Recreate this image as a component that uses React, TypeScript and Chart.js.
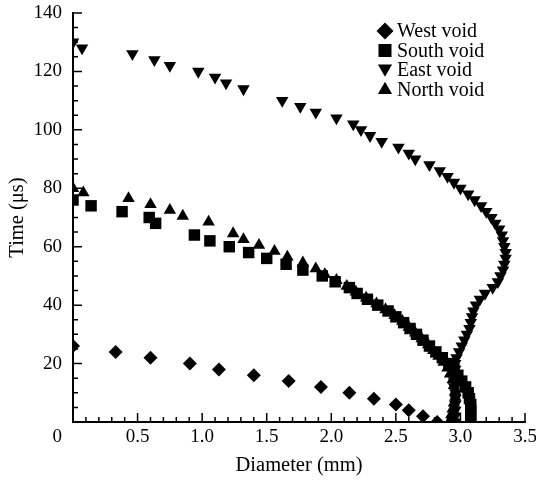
import React, { useEffect, useRef } from 'react';
import { Chart, registerables } from 'chart.js';
import { drawPoint } from 'chart.js/helpers';

Chart.register(...registerables);

// ---- data (diameter in mm, time in µs) ----
const westD = [0, 0.33, 0.6, 0.905, 1.13, 1.4, 1.67, 1.92, 2.14, 2.33, 2.5, 2.6, 2.71, 2.82];
const westT = [26, 24, 22, 20, 18, 16, 14, 12, 10, 8, 6, 4, 2, 0];

const southD = [0, 0.14, 0.38, 0.59, 0.64, 0.94, 1.06, 1.21, 1.36, 1.5, 1.65, 1.78, 1.93, 2.03, 2.14, 2.2, 2.28, 2.36, 2.44, 2.5, 2.56, 2.61, 2.66, 2.71, 2.76, 2.81, 2.86, 2.91, 2.95, 2.98, 3.01, 3.04, 3.06, 3.07, 3.08, 3.08, 3.08, 3.08];
const southT = [76, 74, 72, 70, 68, 64, 62, 60, 58, 56, 54, 52, 50, 48, 46, 44, 42, 40, 38, 36, 34, 32, 30, 28, 26, 24, 22, 20, 18, 16, 14, 12, 10, 8, 6, 4, 2, 0];

const eastD = [0, 0.07, 0.46, 0.63, 0.75, 0.97, 1.1, 1.185, 1.32, 1.62, 1.76, 1.88, 2.04, 2.17, 2.23, 2.3, 2.39, 2.52, 2.6, 2.65, 2.76, 2.84, 2.9, 2.95, 3.0, 3.06, 3.11, 3.16, 3.2, 3.24, 3.27, 3.3, 3.32, 3.33, 3.34, 3.35, 3.35, 3.34, 3.33, 3.31, 3.29, 3.25, 3.19, 3.15, 3.12, 3.1, 3.09, 3.08, 3.07, 3.05, 3.03, 3.01, 2.99, 2.97, 2.96, 2.96, 2.95, 2.95, 2.95, 2.96, 2.96, 2.96, 2.96, 2.96, 2.96];
const eastT = [130, 128, 126, 124, 122, 120, 118, 116, 114, 110, 108, 106, 104, 102, 100, 98, 96, 94, 92, 90, 88, 86, 84, 82, 80, 78, 76, 74, 72, 70, 68, 66, 64, 62, 60, 58, 56, 54, 52, 50, 48, 46, 44, 42, 40, 38, 36, 34, 32, 30, 28, 26, 24, 22, 20, 18, 16, 14, 12, 10, 8, 6, 4, 2, 0];

const northD = [0, 0.08, 0.43, 0.6, 0.75, 0.85, 1.05, 1.24, 1.32, 1.44, 1.56, 1.66, 1.78, 1.88, 1.95, 2.04, 2.12, 2.19, 2.27, 2.35, 2.42, 2.49, 2.55, 2.6, 2.65, 2.7, 2.75, 2.79, 2.83, 2.87, 2.9, 2.92, 2.94, 2.95, 2.96, 2.96, 2.95, 2.94, 2.93, 2.92];
const northT = [80, 78.5, 76.5, 74.5, 72.5, 70.5, 68.5, 64.5, 62.5, 60.5, 58.5, 56.5, 54.5, 52.5, 50.5, 48.5, 46.5, 44.5, 42.5, 40.5, 38.5, 36.5, 34.5, 32.5, 30.5, 28.5, 26.5, 24.5, 22.5, 20.5, 18.5, 16.5, 14.5, 12.5, 10.5, 8.5, 6.5, 4.5, 2.5, 0.5];

const seriesLabels = ['West void', 'South void', 'East void', 'North void'];
const xTitle = 'Diameter (mm)';
const yTitle = 'Time (\u03bcs)';
const originLabel = '0';

const FONT = "'Liberation Serif', 'Times New Roman', serif";

const pts = (d: number[], t: number[]) => d.map((x, i) => ({ x, y: t[i] }));

const axisTicksPlugin = {
  id: 'axisTicks',
  afterDatasetsDraw(chart: any) {
    const { ctx, chartArea } = chart;
    const xs = chart.scales.x;
    const ys = chart.scales.y;
    ctx.save();
    ctx.strokeStyle = '#000';
    ctx.lineWidth = 1.5;
    ctx.beginPath();
    for (let i = 1; i <= 35; i++) {
      const px = xs.getPixelForValue(i / 10);
      const len = i % 5 === 0 ? 9 : 5;
      ctx.moveTo(px, chartArea.bottom);
      ctx.lineTo(px, chartArea.bottom - len);
    }
    for (let i = 1; i <= 28; i++) {
      const py = ys.getPixelForValue(i * 5);
      const len = i % 4 === 0 ? 9 : 5;
      ctx.moveTo(chartArea.left, py);
      ctx.lineTo(chartArea.left + len, py);
    }
    ctx.stroke();
    ctx.fillStyle = '#000';
    ctx.font = `19px ${FONT}`;
    ctx.textAlign = 'right';
    ctx.textBaseline = 'middle';
    ctx.fillText(originLabel, chartArea.left - 11, chartArea.bottom + 15);
    ctx.restore();
  },
};

// legend drawn inside the plot area, top right, from the datasets' own labels and point styles
const insetLegendPlugin = {
  id: 'insetLegend',
  afterDraw(chart: any) {
    const { ctx, chartArea } = chart;
    const x0 = chartArea.right - 140;
    const y0 = chartArea.top + 18;
    const rowH = 19.5;
    ctx.save();
    ctx.fillStyle = '#000';
    ctx.strokeStyle = '#000';
    ctx.font = `20px ${FONT}`;
    ctx.textAlign = 'left';
    ctx.textBaseline = 'middle';
    chart.data.datasets.forEach((ds: any, i: number) => {
      const cy = y0 + i * rowH;
      const style = ds.pointStyle;
      let r = 8.5;
      let dy = 0;
      if (style === 'rect') r = 9.2;
      if (style === 'triangle') {
        r = 8.2;
        dy = ds.pointRotation ? -1.5 : 0.5;
      }
      drawPoint(ctx, { pointStyle: style, rotation: ds.pointRotation || 0, radius: r, borderWidth: 0 }, x0, cy + dy);
      ctx.fillStyle = '#000';
      ctx.fillText(ds.label, x0 + 12, cy + 1);
    });
    ctx.restore();
  },
};

export default function App() {
  const ref = useRef<HTMLCanvasElement>(null);
  useEffect(() => {
    const canvas = ref.current;
    if (!canvas) return;
    const black = '#000';
    const mk = (label: string, d: number[], t: number[], style: string, radius: number, rot = 0) => ({
      label,
      data: pts(d, t),
      pointStyle: style,
      pointRadius: radius,
      pointHoverRadius: radius,
      pointRotation: rot,
      backgroundColor: black,
      borderColor: black,
      borderWidth: 0,
      showLine: false,
    });
    const chart = new Chart(canvas, {
      type: 'scatter',
      data: {
        datasets: [
          mk(seriesLabels[0], westD, westT, 'rectRot', 7),
          mk(seriesLabels[1], southD, southT, 'rect', 8.1),
          mk(seriesLabels[2], eastD, eastT, 'triangle', 7.2, 180),
          mk(seriesLabels[3], northD, northT, 'triangle', 7.2),
        ],
      },
      options: {
        responsive: false,
        animation: false,
        layout: { padding: { top: 13, right: 11, left: 0, bottom: 0 } },
        plugins: {
          tooltip: { enabled: false },
          legend: { display: false },
        },
        scales: {
          x: {
            type: 'linear',
            min: 0,
            max: 3.5,
            afterFit(s: any) {
              s.height = 61;
              s.paddingLeft = 0;
              s.paddingRight = 0;
            },
            grid: { display: true, drawOnChartArea: false, drawTicks: false },
            border: { display: true, color: black, width: 2 },
            ticks: {
              stepSize: 0.5,
              padding: 4,
              color: black,
              maxRotation: 0,
              font: { family: FONT, size: 19 },
              callback: (v: any) => (Number(v) === 0 ? '' : Number(v).toFixed(1)),
            },
            title: {
              display: true,
              text: xTitle,
              color: black,
              font: { family: FONT, size: 20.5 },
              padding: { top: 0, bottom: 5 },
            },
          },
          y: {
            type: 'linear',
            min: 0,
            max: 140,
            afterFit(s: any) {
              s.width = 73;
              s.paddingTop = 0;
              s.paddingBottom = 0;
            },
            grid: { display: true, drawOnChartArea: false, drawTicks: false },
            border: { display: true, color: black, width: 2 },
            ticks: {
              stepSize: 20,
              padding: 11,
              color: black,
              font: { family: FONT, size: 19 },
              callback: (v: any) => (Number(v) === 0 ? '' : String(v)),
            },
            title: {
              display: true,
              text: yTitle,
              color: black,
              font: { family: FONT, size: 20.5 },
              padding: { top: 5, bottom: 0 },
            },
          },
        },
      },
      plugins: [axisTicksPlugin, insetLegendPlugin],
    } as any);
    return () => chart.destroy();
  }, []);
  return (
    <div style={{ position: 'fixed', left: 0, top: 0, width: 536, height: 483, background: '#fff' }}>
      <canvas ref={ref} width={536} height={483} style={{ display: 'block' }} />
    </div>
  );
}
